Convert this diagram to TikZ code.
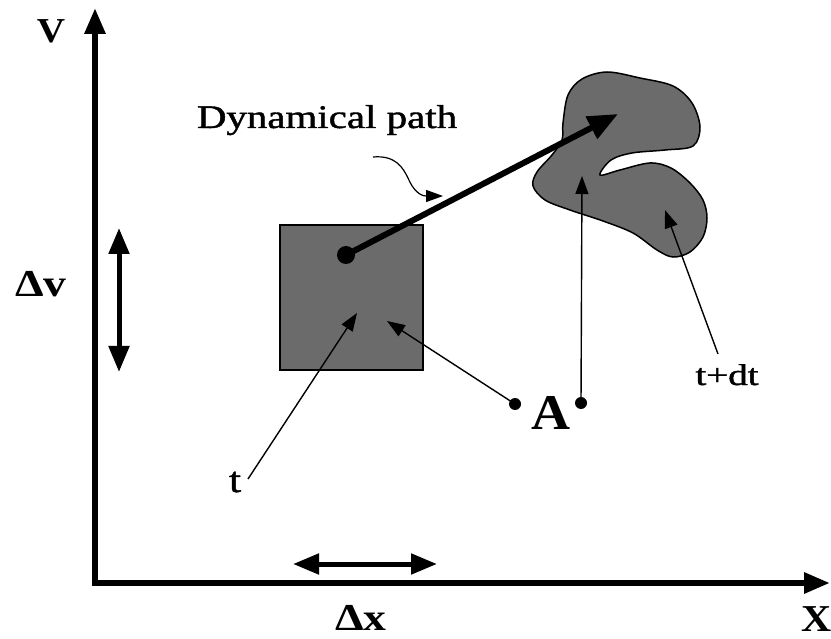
\documentclass[tikz,border=0pt]{standalone}
\usepackage{fontspec}
\setmainfont{Liberation Serif}
\newfontfamily\heavyserif[FakeBold=1.2]{Liberation Serif}
\usetikzlibrary{arrows.meta}
\newcommand\widetxt[3]{\fontsize{#2}{#2}\selectfont\scalebox{#1}[1]{#3}}
\begin{document}
\begin{tikzpicture}[x=1pt,y=-1pt,
  axis/.style={line width=6pt,-{Triangle[length=26pt,width=20pt]}},
  span/.style={line width=5pt,{Triangle[length=26pt,width=20pt]}-{Triangle[length=26pt,width=20pt]}},
  thinarrow/.style={line width=1.4pt,-{Triangle[length=18pt,width=13pt]}},
  shade/.style={fill=black!58, draw=black, line width=1.5pt},
  dotnode/.style={circle, fill=black, inner sep=0pt, minimum size=#1},
  lbl/.style={inner sep=0pt, anchor=base},
]
\useasboundingbox (0,0) rectangle (831,639);
% axes
\coordinate (Vbase) at (95,586);
\coordinate (Vtip) at (95,8);
\coordinate (Xbase) at (92,583);
\coordinate (Xtip) at (830,583);
\draw[axis] (Vbase) -- (Vtip);
\draw[axis] (Xbase) -- (Xtip);
% spans
\coordinate (dv1) at (119,228);
\coordinate (dv2) at (119,372);
\draw[span] (dv1) -- (dv2);
\coordinate (dx1) at (293,564);
\coordinate (dx2) at (437,564);
\draw[span] (dx1) -- (dx2);
% square
\node[shade, minimum width=143pt, minimum height=145pt, inner sep=0pt] (box) at (351.5,297.5) {};
% blob
\draw[shade] plot[smooth cycle, tension=0.55] coordinates {
 (563,123) (568,95) (582,79) (607,72) (640,78) (673,86) (692,103) (700,127)
 (693,146) (665,150) (632,153) (611,160) (600,175) (620,170) (650,163)
 (671,168) (690,183) (703,200) (707,218) (703,237) (690,252) (673,257)
 (657,250) (633,233) (603,221) (570,210) (545,200) (533,186) (537,172)
 (552,155) (562,140)};
% dots
\node[dotnode=18pt] (p) at (346,255) {};
\node[dotnode=12pt] (a1) at (515,404) {};
\node[dotnode=12pt] (a2) at (581,403) {};
% dynamical path
\coordinate (dyn) at (618,114);
\draw[line width=6pt,-{Triangle[length=30pt,width=24pt]}] (p.center) -- (dyn);
% thin arrows
\coordinate (tend) at (248,479);
\coordinate (tin) at (357,313);
\draw[thinarrow] (tend) -- (tin);
\coordinate (ain) at (387,321);
\draw[thinarrow] (a1.center) -- (ain);
\coordinate (upin) at (582,176);
\draw[thinarrow] (a2.center) -- (upin);
\coordinate (tdtend) at (718,354);
\coordinate (tdtin) at (665,210);
\draw[thinarrow] (tdtend) -- (tdtin);
% curly arrow
\coordinate (cs) at (373,157);
\coordinate (ce) at (443,196);
\draw[line width=1.2pt,-{Triangle[length=17pt,width=12pt]}] (cs) .. controls (396,155) and (403,168) .. (408,178) .. controls (413,190) and (420,196) .. (ce);
% labels
\node[lbl] (dynlbl) at (327,128) {\heavyserif\widetxt{1.24}{33}{Dynamical path}};
\node[lbl] (tlbl) at (235,492) {\heavyserif\widetxt{1.2}{36}{t}};
\node[lbl] (tdtlbl) at (727,385) {\heavyserif\widetxt{1.3}{30}{t+dt}};
\node[lbl] (albl) at (551,429) {\widetxt{1.08}{50}{\bfseries A}};
\node[lbl] (vlbl) at (51,43) {\widetxt{1.12}{35}{\bfseries V}};
\node[lbl] (dvlbl) at (41,297) {\widetxt{1.2}{38}{\bfseries Δv}};
\node[lbl] (dxlbl) at (361,630) {\widetxt{1.2}{38}{\bfseries Δx}};
\node[lbl] (xlbl) at (817,631) {\widetxt{1.1}{38}{\bfseries X}};
\end{tikzpicture}
\end{document}
